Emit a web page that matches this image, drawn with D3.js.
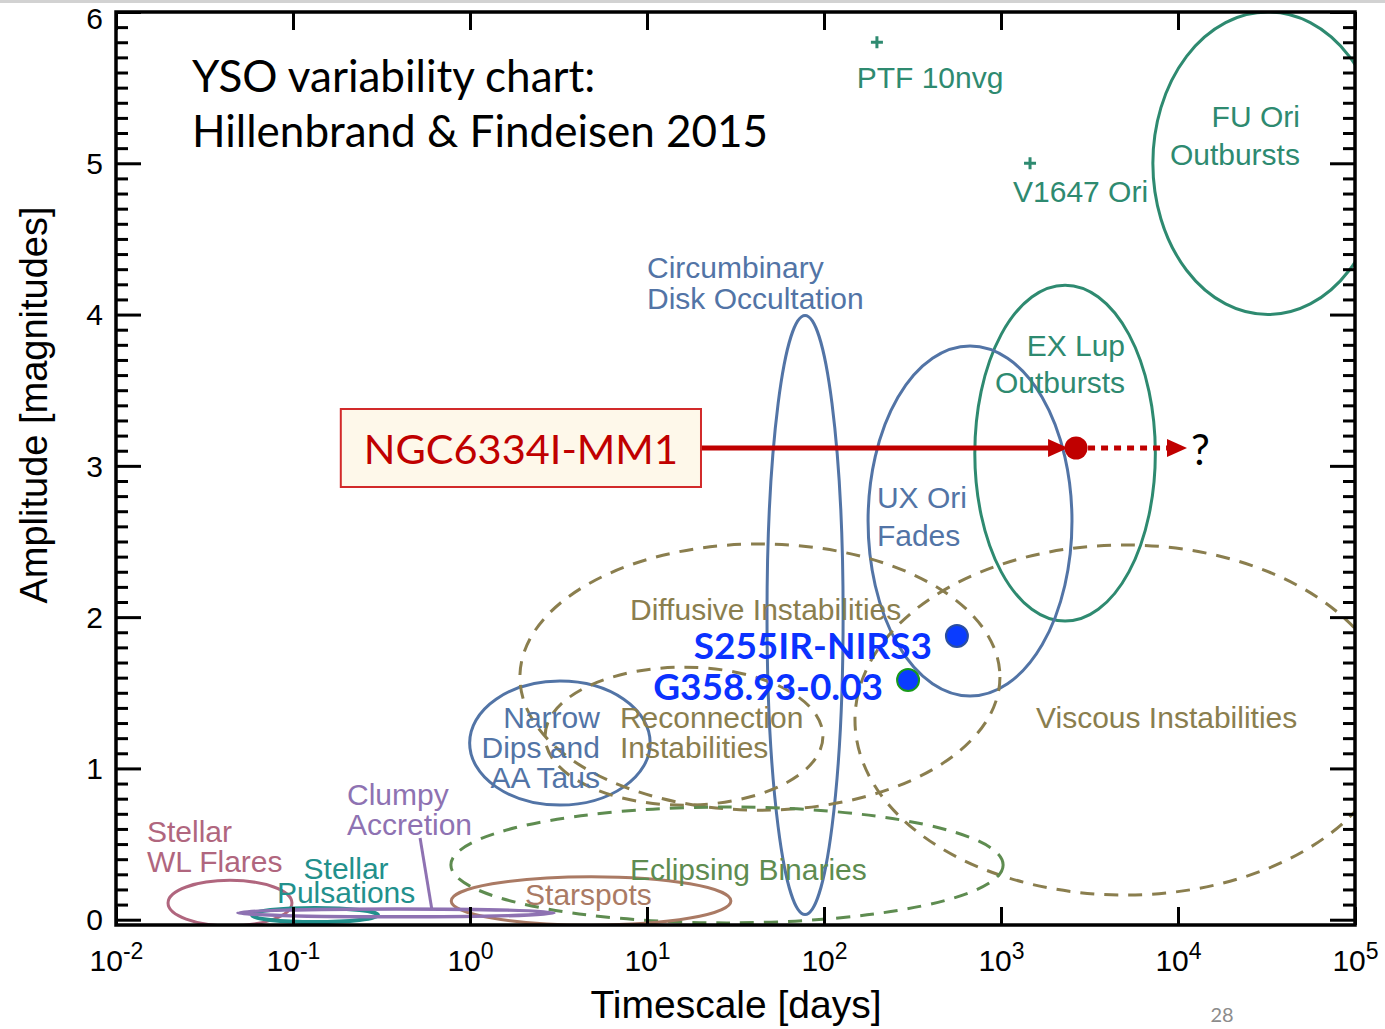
<!DOCTYPE html>
<html><head><meta charset="utf-8">
<script src="https://cdn.jsdelivr.net/npm/d3@7"></script>
<style>body{margin:0;background:#fff;} svg{display:block;}</style>
</head><body>
<svg id="c" width="1385" height="1029"></svg>
<script>
// ---------------- DATA ----------------
const xTickExponents = [-2, -1, 0, 1, 2, 3, 4, 5];
const yTickValues = [0, 1, 2, 3, 4, 5, 6];

// variability regions (ellipses in log10(timescale) / amplitude space)
const regionNames = ["FU Ori Outbursts", "EX Lup Outbursts", "UX Ori Fades", "Circumbinary Disk Occultation",
  "Narrow Dips and AA Taus", "Diffusive Instabilities", "Reconnection Instabilities", "Viscous Instabilities",
  "Eclipsing Binaries", "Starspots", "Stellar WL Flares", "Stellar Pulsations", "Clumpy Accretion"];
const regionLogCenter   = [4.508, 3.362, 2.825, 1.893, 0.508, 1.638, 1.209, 3.70, 1.452, 0.684, -1.356, -0.876, -0.418];
const regionAmpCenter   = [5.00, 3.084, 2.635, 2.014, 1.168, 1.604, 1.213, 1.32, 0.362, 0.124, 0.110, 0.031, 0.045];
const regionLogHalfWidth = [0.65, 0.51, 0.576, 0.215, 0.51, 1.356, 0.785, 1.525, 1.56, 0.79, 0.35, 0.356, 0.893];
const regionAmpHalfHeight = [1.00, 1.11, 1.157, 1.98, 0.41, 0.88, 0.456, 1.157, 0.383, 0.16, 0.15, 0.046, 0.026];
const regionClass = ["outburst", "outburst", "extinction", "extinction", "extinction", "instability", "instability",
  "instability", "binary", "spot", "flare", "pulsation", "accretion"];

// region labels (one entry per text line; anchor in log10 timescale / amplitude)
const labelTexts = ["FU Ori", "Outbursts", "EX Lup", "Outbursts", "UX Ori", "Fades", "Circumbinary", "Disk Occultation",
  "Diffusive Instabilities", "Narrow", "Dips and", "AA Taus", "Reconnection", "Instabilities", "Viscous Instabilities",
  "Clumpy", "Accretion", "Stellar", "WL Flares", "Stellar", "Pulsations", "Eclipsing Binaries", "Starspots",
  "PTF 10nvg", "V1647 Ori"];
const labelLogT = [4.689, 4.689, 3.701, 3.701, 2.299, 2.299, 1.0, 1.0,
  0.904, 0.734, 0.734, 0.734, 0.847, 0.847, 3.198,
  -0.695, -0.695, -1.825, -1.825, -0.70, -0.70, 0.904, 0.311,
  2.599, 3.068];
const labelAmp = [5.239, 4.988, 3.725, 3.48, 2.723, 2.472, 4.24, 4.036,
  1.981, 1.267, 1.069, 0.870, 1.267, 1.069, 1.267,
  0.758, 0.560, 0.514, 0.315, 0.270, 0.111, 0.263, 0.097,
  5.50, 4.743];
const labelAnchor = ["end", "end", "end", "end", "start", "start", "start", "start",
  "start", "end", "end", "end", "start", "start", "start",
  "start", "start", "start", "start", "middle", "middle", "start", "start",
  "middle", "start"];
const labelClass = ["outburst", "outburst", "outburst", "outburst", "extinction", "extinction", "extinction", "extinction",
  "instability", "extinction", "extinction", "extinction", "instability", "instability", "instability",
  "accretion", "accretion", "flare", "flare", "pulsation", "pulsation", "binary", "spot",
  "outburst", "outburst"];

// individual outbursting objects (+ markers)
const outburstNames = ["PTF 10nvg", "V1647 Ori"];
const outburstLogT = [2.299, 3.164];
const outburstAmp = [5.80, 5.00];

// Clumpy accretion leader line
const leaderLogT = [-0.282, -0.215];
const leaderAmp = [0.54, 0.064];

// highlighted maser-flare sources
const sourceNames = ["S255IR-NIRS3", "G358.93-0.03"];
const sourceLogT = [2.751, 2.475];
const sourceAmp = [1.875, 1.584];

// NGC6334I-MM1
const mm1Name = "NGC6334I-MM1";
const mm1LogT = 3.424;
const mm1Amp = 3.118;
const mm1ArrowStartLogT = 1.305;
const mm1ExtrapLogT = 4.051;

// ---------------- STYLE ----------------
const classColor = {
  outburst: "#2e8a70", extinction: "#5274a6", instability: "#8a7e4e", binary: "#5e8c50",
  spot: "#aa7a64", flare: "#b0667e", pulsation: "#22908c", accretion: "#8e72b2"
};
const classDashed = { instability: true, binary: true };
const classWidth = { pulsation: 4, accretion: 3.5 };
const sourceRing = ["#2a4ea0", "#1a9a1a"];
const labelFont = "'Liberation Sans', Arial, sans-serif";
const calFont = "Lato, 'Open Sans', sans-serif";
const red = "#c00000";

// ---------------- CHART ----------------
const svg = d3.select("#c");
const W = 1385, H = 1029;
const pL = 116, pR = 1355, pT = 12, pB = 925;

const x = d3.scaleLog().domain([1e-2, 1e5]).range([pL, pR]);
const y = d3.scaleLinear().domain([-0.035, 6]).range([pB, pT]);

svg.append("rect").attr("x", 0).attr("y", 0).attr("width", W).attr("height", 3).attr("fill", "#d2d2d2");

svg.append("defs").append("clipPath").attr("id", "plotclip")
  .append("rect").attr("x", pL).attr("y", pT).attr("width", pR - pL).attr("height", pB - pT);

const plot = svg.append("g").attr("clip-path", "url(#plotclip)");

// ellipses
const regions = regionNames.map((n, i) => ({
  name: n, L: regionLogCenter[i], m: regionAmpCenter[i], w: regionLogHalfWidth[i], h: regionAmpHalfHeight[i], cls: regionClass[i]
}));
plot.selectAll("ellipse.region").data(regions).enter().append("ellipse")
  .attr("class", "region")
  .attr("cx", d => x(Math.pow(10, d.L)))
  .attr("cy", d => y(d.m))
  .attr("rx", d => x(Math.pow(10, d.L + d.w)) - x(Math.pow(10, d.L)))
  .attr("ry", d => y(d.m - d.h) - y(d.m))
  .attr("fill", "none")
  .attr("stroke", d => classColor[d.cls])
  .attr("stroke-width", d => classWidth[d.cls] || 3)
  .attr("stroke-dasharray", d => classDashed[d.cls] ? "14,10" : null);

// leader line
plot.append("line")
  .attr("x1", x(Math.pow(10, leaderLogT[0]))).attr("y1", y(leaderAmp[0]))
  .attr("x2", x(Math.pow(10, leaderLogT[1]))).attr("y2", y(leaderAmp[1]))
  .attr("stroke", classColor.accretion).attr("stroke-width", 3);

// outburst + markers
outburstNames.forEach((n, i) => {
  const cx = x(Math.pow(10, outburstLogT[i])), cy = y(outburstAmp[i]);
  plot.append("path").attr("d", `M${cx - 6},${cy}H${cx + 6}M${cx},${cy - 6}V${cy + 6}`)
    .attr("stroke", classColor.outburst).attr("stroke-width", 3);
});

// labels
labelTexts.forEach((t, i) => {
  svg.append("text")
    .attr("x", x(Math.pow(10, labelLogT[i])))
    .attr("y", y(labelAmp[i]))
    .attr("text-anchor", labelAnchor[i])
    .attr("font-family", labelFont).attr("font-size", 30)
    .attr("fill", classColor[labelClass[i]])
    .text(t);
});

// axes frame + ticks
const frame = svg.append("g");
function styleAxis(g) {
  g.select(".domain").remove();
  g.selectAll(".tick line").attr("stroke", "#000").attr("stroke-width", 3);
}
const minorY = d3.range(0, 60).map(v => v / 10).filter(v => Math.abs(v - Math.round(v)) > 1e-6);

const xb = frame.append("g").attr("transform", `translate(0,${pB})`)
  .call(d3.axisBottom(x).tickValues(xTickExponents.map(e => Math.pow(10, e))).tickSize(-18).tickPadding(25).tickFormat(() => ""));
styleAxis(xb);
xb.selectAll(".tick text").each(function (d) {
  const t = d3.select(this);
  const e = Math.round(Math.log10(d));
  t.attr("font-family", labelFont).attr("font-size", 30).attr("fill", "#000");
  t.append("tspan").text("10");
  t.append("tspan").attr("dy", "-0.55em").attr("font-size", 23).text(String(e));
});

const xt = frame.append("g").attr("transform", `translate(0,${pT})`)
  .call(d3.axisTop(x).tickValues(xTickExponents.map(e => Math.pow(10, e))).tickSize(-18).tickFormat(() => ""));
styleAxis(xt);

const yl = frame.append("g").attr("transform", `translate(${pL},0)`)
  .call(d3.axisLeft(y).tickValues(yTickValues).tickSize(-25).tickPadding(13).tickFormat(d3.format("d")));
styleAxis(yl);
yl.selectAll(".tick text").attr("font-family", labelFont).attr("font-size", 30).attr("fill", "#000")
  .attr("dy", d => d === 6 ? "0.55em" : "0.34em");
const ylm = frame.append("g").attr("transform", `translate(${pL},0)`)
  .call(d3.axisLeft(y).tickValues(minorY).tickSize(-12).tickFormat(() => ""));
styleAxis(ylm);

const yr = frame.append("g").attr("transform", `translate(${pR},0)`)
  .call(d3.axisRight(y).tickValues(yTickValues).tickSize(-25).tickFormat(() => ""));
styleAxis(yr);
const yrm = frame.append("g").attr("transform", `translate(${pR},0)`)
  .call(d3.axisRight(y).tickValues(minorY).tickSize(-12).tickFormat(() => ""));
styleAxis(yrm);

frame.append("rect").attr("x", pL).attr("y", pT).attr("width", pR - pL).attr("height", pB - pT)
  .attr("fill", "none").attr("stroke", "#000").attr("stroke-width", 3.5);

// axis titles
svg.append("text").attr("x", 736).attr("y", 1018).attr("text-anchor", "middle")
  .attr("font-family", labelFont).attr("font-size", 39).attr("fill", "#000").text("Timescale [days]");
svg.append("text").attr("transform", "translate(47,405) rotate(-90)").attr("text-anchor", "middle")
  .attr("font-family", labelFont).attr("font-size", 38).attr("fill", "#000").text("Amplitude [magnitudes]");

// title
svg.append("text").attr("x", 192).attr("y", 92).attr("font-family", calFont).attr("font-size", 44).attr("fill", "#000")
  .text("YSO variability chart:");
svg.append("text").attr("x", 192).attr("y", 147).attr("font-family", calFont).attr("font-size", 44).attr("fill", "#000")
  .text("Hillenbrand & Findeisen 2015");

// NGC6334I-MM1 arrow
const ay = y(mm1Amp);
const ax0 = x(Math.pow(10, mm1ArrowStartLogT));
const dotX = x(Math.pow(10, mm1LogT));
const extX = x(Math.pow(10, mm1ExtrapLogT));
svg.append("line").attr("x1", ax0).attr("y1", ay).attr("x2", dotX - 24).attr("y2", ay)
  .attr("stroke", red).attr("stroke-width", 5);
svg.append("path").attr("d", `M${dotX - 8},${ay}L${dotX - 28},${ay - 9}L${dotX - 28},${ay + 9}Z`).attr("fill", red);
svg.append("line").attr("x1", dotX + 12).attr("y1", ay).attr("x2", extX - 18).attr("y2", ay)
  .attr("stroke", red).attr("stroke-width", 5).attr("stroke-dasharray", "7,6");
svg.append("path").attr("d", `M${extX},${ay}L${extX - 20},${ay - 9}L${extX - 20},${ay + 9}Z`).attr("fill", red);
svg.append("circle").attr("cx", dotX).attr("cy", ay).attr("r", 11.5).attr("fill", red);
svg.append("text").attr("x", extX + 4).attr("y", ay + 17).attr("font-family", calFont).attr("font-size", 42)
  .attr("fill", "#000").text("?");

// label box
const boxG = svg.append("g");
const boxRect = boxG.append("rect");
const boxText = boxG.append("text").attr("font-family", calFont).attr("font-size", 41.5).attr("fill", red)
  .attr("text-anchor", "middle").text(mm1Name);
const tw = boxText.node().getComputedTextLength();
const bw = tw + 46, bh = 78;
boxRect.attr("x", ax0 - bw).attr("y", ay - bh / 2).attr("width", bw).attr("height", bh)
  .attr("fill", "#fef8ea").attr("stroke", "#d22a2a").attr("stroke-width", 2);
boxText.attr("x", ax0 - bw / 2).attr("y", ay + 16);

// highlighted sources
sourceNames.forEach((n, i) => {
  const cx = x(Math.pow(10, sourceLogT[i])), cy = y(sourceAmp[i]);
  svg.append("circle").attr("cx", cx).attr("cy", cy).attr("r", 11)
    .attr("fill", "#0a3cff").attr("stroke", sourceRing[i]).attr("stroke-width", 2);
  svg.append("text").attr("x", cx - 25).attr("y", cy + (i === 0 ? 23 : 20)).attr("text-anchor", "end")
    .attr("font-family", calFont).attr("font-weight", "bold").attr("font-size", 37).attr("fill", "#0a32ff").text(n);
});

// page number
svg.append("text").attr("x", 1222).attr("y", 1022).attr("text-anchor", "middle")
  .attr("font-family", calFont).attr("font-size", 20).attr("fill", "#8c8c8c").text("28");
</script>
</body></html>
